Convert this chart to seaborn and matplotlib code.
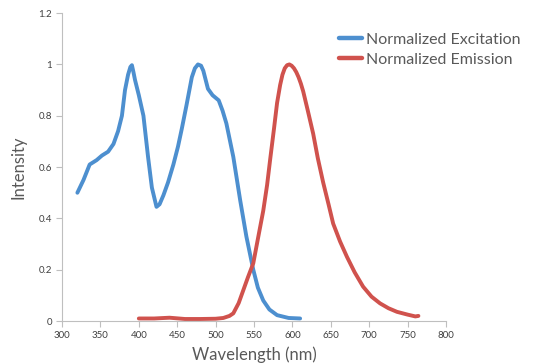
import pandas as pd
import matplotlib.pyplot as plt
import seaborn as sns

# Excitation spectrum
exc_nm = [320, 328, 336, 345, 352, 360, 367, 373, 378, 382, 386, 389, 391, 393, 395, 400,
          406, 412, 417, 423, 427, 432, 438, 445, 451, 456, 462, 469, 473, 477, 481, 484,
          487, 490, 496, 504, 509, 514, 523, 532, 540, 549, 555, 562, 570, 580, 595, 610]
exc_int = [0.50, 0.55, 0.61, 0.627, 0.645, 0.66, 0.69, 0.74, 0.80, 0.90, 0.96, 0.99, 0.997, 0.97,
           0.94, 0.88, 0.80, 0.64, 0.52, 0.445, 0.455, 0.49, 0.54, 0.61, 0.68, 0.75, 0.84, 0.95,
           0.985, 1.0, 0.995, 0.975, 0.94, 0.905, 0.88, 0.86, 0.82, 0.77, 0.64, 0.47, 0.33, 0.20,
           0.13, 0.08, 0.045, 0.023, 0.012, 0.01]

# Emission spectrum
emi_nm = [400, 420, 440, 460, 480, 500, 510, 518, 523, 530, 536, 542, 549, 555, 562, 567,
          571, 576, 580, 584, 587, 590, 593, 596, 599, 602, 605, 608, 611, 614, 620, 627, 633,
          640, 647, 653, 662, 671, 681, 692, 703, 714, 725, 736, 750, 760, 764]
emi_int = [0.01, 0.01, 0.013, 0.008, 0.008, 0.009, 0.012, 0.02, 0.03, 0.07, 0.12, 0.17, 0.225,
           0.32, 0.43, 0.53, 0.63, 0.75, 0.85, 0.92, 0.96, 0.985, 0.997, 1.0, 0.995, 0.985,
           0.97, 0.95, 0.925, 0.895, 0.82, 0.73, 0.635, 0.54, 0.455, 0.38, 0.31, 0.25, 0.19,
           0.134, 0.095, 0.069, 0.05, 0.036, 0.025, 0.018, 0.02]

series = ["Normalized Excitation", "Normalized Emission"]
colors = ["#4D8FCF", "#D0524D"]

df = pd.concat([
    pd.DataFrame({"Wavelength": exc_nm, "Intensity": exc_int, "Series": series[0]}),
    pd.DataFrame({"Wavelength": emi_nm, "Intensity": emi_int, "Series": series[1]}),
])

sns.set_style("white")
plt.rcParams["font.family"] = ["Lato", "DejaVu Sans"]

fig = plt.figure(figsize=(5.36, 3.64), dpi=100)
ax = fig.add_axes([0.1157, 0.118, 0.7165, 0.846])

sns.lineplot(
    data=df, x="Wavelength", y="Intensity", hue="Series",
    palette=dict(zip(series, colors)), sort=False, estimator=None,
    linewidth=2.8, solid_capstyle="round", solid_joinstyle="round", ax=ax
)

ax.set_xlim(300, 800)
ax.set_ylim(0, 1.2)
ax.set_xticks(range(300, 801, 50))
ax.set_yticks([0, 0.2, 0.4, 0.6, 0.8, 1.0, 1.2])
ax.set_yticklabels(["0", "0.2", "0.4", "0.6", "0.8", "1", "1.2"])
ax.tick_params(axis="both", labelsize=7, colors="#BFBFBF", labelcolor="#404040",
               length=4, width=0.8, direction="out", left=True, bottom=True, pad=3)

for s in ["top", "right"]:
    ax.spines[s].set_visible(False)
for s in ["left", "bottom"]:
    ax.spines[s].set_color("#BFBFBF")
    ax.spines[s].set_linewidth(0.8)

ax.set_xlabel("Wavelength (nm)", fontsize=12, color="#595959", labelpad=5)
ax.set_ylabel("Intensity", fontsize=12, color="#595959", labelpad=9)

leg = ax.legend(loc="upper left", bbox_to_anchor=(0.705, 0.958), frameon=False,
                fontsize=11.5, handlelength=1.4, handletextpad=0.25,
                labelspacing=0.36, borderaxespad=0)
for t in leg.get_texts():
    t.set_color("#595959")
for line in leg.get_lines():
    line.set_linewidth(3.2)

fig.savefig("out.png", dpi=100)
